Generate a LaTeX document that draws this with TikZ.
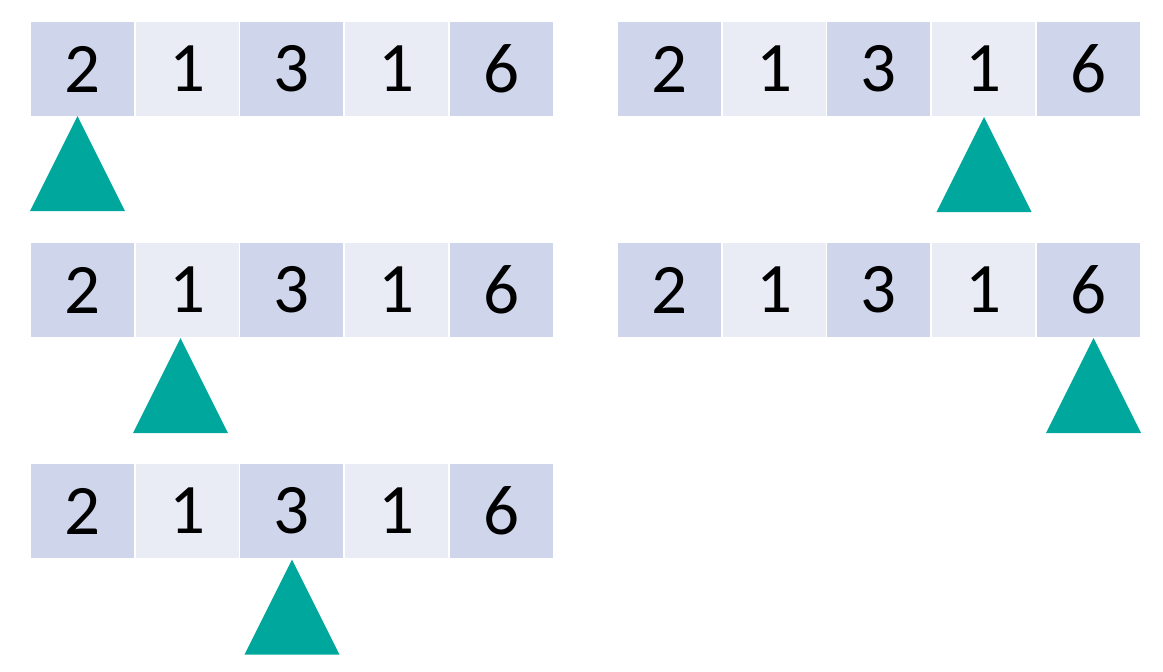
\documentclass[tikz,border=0pt]{standalone}
\usepackage{fontspec}
\setmainfont{Carlito}
\definecolor{cdark}{HTML}{CFD5EA}
\definecolor{clight}{HTML}{E9EBF5}
\definecolor{cteal}{HTML}{00A79D}
\begin{document}
\begin{tikzpicture}[x=1pt,y=-1pt,
  cellbox/.style={fill=#1,inner sep=0pt,minimum width=103pt,minimum height=94pt,
    font=\fontsize{71}{71}\selectfont,text=black},
  pointer/.style={fill=cteal}]
\useasboundingbox (0,0) rectangle (1163,672);
% arrays: name prefix, left x, top y
\foreach \nm/\lx/\ty in {a/30/22, b/30/243, c/30/464, d/617/22, e/617/243}{
  \foreach \v [count=\i] in {2,1,3,1,6}{
    \pgfmathsetmacro\cx{\lx+(\i-0.5)*104.75}
    \pgfmathtruncatemacro\odd{mod(\i,2)}
    \ifnum\odd=1
      \node[cellbox=cdark] (\nm\i) at (\cx,\ty+47) {\v};
    \else
      \node[cellbox=clight] (\nm\i) at (\cx,\ty+47) {\v};
    \fi
  }
}
% pointers
\foreach \px/\py in {77.5/116, 984/117, 180.5/338, 1093.5/338, 292/559.5}{
  \fill[pointer] (\px,\py) -- (\px+47.5,\py+95) -- (\px-47.5,\py+95) -- cycle;
}
\end{tikzpicture}
\end{document}
